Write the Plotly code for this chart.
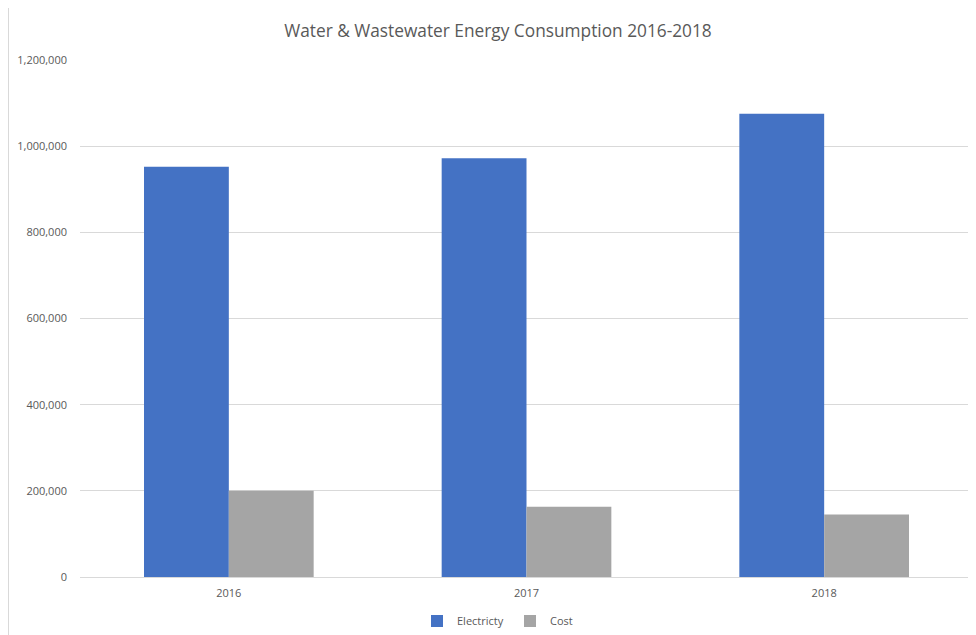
import plotly.graph_objects as go

years = ["2016", "2017", "2018"]
electricity = [952000, 972000, 1075000]
cost = [200000, 163000, 145000]
tick_vals = [0, 200000, 400000, 600000, 800000, 1000000, 1200000]
tick_text = ["0", "200,000", "400,000", "600,000", "800,000", "1,000,000", "1,200,000"]

fig = go.Figure()
fig.add_trace(go.Bar(name="Electricty", x=years, y=electricity, marker_color="#4472C4",
                     marker_line_width=0))
fig.add_trace(go.Bar(name="Cost", x=years, y=cost, marker_color="#A5A5A5",
                     marker_line_width=0))

# page body has an 8px margin, so the figure is offset by 8px
W, H = 968, 627
L, R, T = 72, 3, 52
B = H - 569
pw, ph = W - L - R, H - T - B

fig.update_layout(
    width=W, height=H,
    margin=dict(l=L, r=R, t=T, b=B, autoexpand=False),
    paper_bgcolor="white", plot_bgcolor="white",
    barmode="group", bargap=0.43, bargroupgap=0,
    font=dict(family="Open Sans, Liberation Sans, sans-serif", color="#595959", size=11),
    title=dict(text="Water & Wastewater Energy Consumption 2016-2018",
               x=(498 - 8 - L) / pw, xref="paper", xanchor="center", y=1 - 23 / H, yanchor="middle",
               font=dict(size=17.3, color="#595959", family="Open Sans, sans-serif")),
    legend=dict(orientation="h", x=(510 - 8 - L) / pw, xanchor="center",
                yref="container", y=1 - (621 - 8) / H, yanchor="middle",
                font=dict(size=11, color="#595959"), itemwidth=30, traceorder="normal",
                entrywidth=48, entrywidthmode="pixels"),
    showlegend=True,
)
fig.update_xaxes(showgrid=False, showline=False, ticks="", tickfont=dict(size=11, color="#595959"),
                 ticklabelstandoff=8, automargin=False)
fig.update_yaxes(range=[0, 1200000], tickvals=tick_vals, ticktext=tick_text,
                 showgrid=True, gridcolor="#D9D9D9", gridwidth=1,
                 zeroline=True, zerolinecolor="#D9D9D9", zerolinewidth=1,
                 showline=False, ticks="", ticklabelstandoff=12, automargin=False,
                 tickfont=dict(size=11, color="#595959"))

fig.add_shape(type="rect", xref="paper", yref="paper",
              x0=(0.5 - L) / pw, x1=(967 - L) / pw,
              y0=-(W) / ph, y1=(569 + 0.5) / ph,
              line=dict(color="#D9D9D9", width=1), fillcolor="rgba(0,0,0,0)", layer="below")

fig.write_html("out.html")
